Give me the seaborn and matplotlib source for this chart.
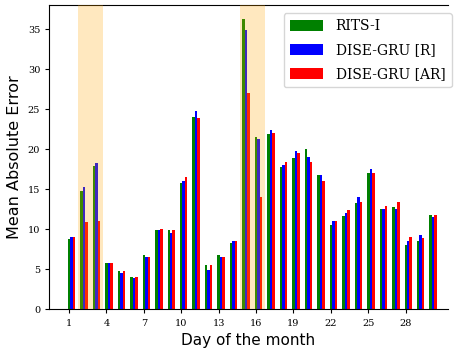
import numpy as np
import pandas as pd
import seaborn as sns
import matplotlib.pyplot as plt

days = list(range(1, 31))

rits_i = [8.75, 14.75, 17.9, 5.75, 4.75, 4.1, 6.75, 9.9, 9.9, 15.75,
          24.1, 5.6, 6.75, 8.25, 36.25, 21.6, 21.9, 17.75, 18.9, 20.1,
          16.75, 10.5, 11.7, 13.25, 17.0, 12.5, 12.75, 8.1, 8.6, 11.75]
dise_r = [9.1, 15.25, 18.25, 5.75, 4.6, 3.9, 6.5, 9.9, 9.6, 16.1,
          24.75, 4.9, 6.5, 8.5, 34.9, 21.25, 22.4, 18.1, 19.75, 19.0,
          16.75, 11.0, 12.1, 14.0, 17.6, 12.5, 12.6, 8.5, 9.25, 11.6]
dise_ar = [9.0, 10.9, 11.1, 5.75, 4.75, 4.0, 6.5, 10.1, 9.9, 16.6,
           23.9, 5.5, 6.6, 8.6, 27.1, 14.1, 22.0, 18.4, 19.6, 18.4,
           16.0, 11.1, 12.4, 13.4, 17.0, 12.9, 13.4, 9.0, 8.9, 11.75]

series_names = ["RITS-I", "DISE-GRU [R]", "DISE-GRU [AR]"]
series_colors = ["green", "blue", "red"]
highlight_days = [(2, 3), (15, 16)]
tick_days = list(range(1, 31, 3))

df = pd.DataFrame({
    "day": days * 3,
    "mae": rits_i + dise_r + dise_ar,
    "model": [series_names[0]] * 30 + [series_names[1]] * 30 + [series_names[2]] * 30,
})

fig = plt.figure(figsize=(4.56, 3.49), dpi=100)
ax = fig.add_axes([0.108, 0.1132, 0.874, 0.8725])

sns.barplot(data=df, x="day", y="mae", hue="model", hue_order=series_names,
            palette=series_colors, native_scale=True, width=0.6, gap=0,
            saturation=1, linewidth=0, ax=ax)

# shaded days, drawn over the bars
for a, b in highlight_days:
    ax.axvspan(a - 0.5, b + 0.5, color="orange", alpha=0.25, lw=0, zorder=3)

ax.set_xlim(-0.78, 31.17)
ax.set_ylim(0, 38.06)
ax.set_xticks([d - 0.2 for d in tick_days])
ax.set_xticklabels([str(d) for d in tick_days], family="DejaVu Serif", fontsize=7)
ax.set_yticks(range(0, 36, 5))
ax.set_yticklabels([str(v) for v in range(0, 36, 5)], family="DejaVu Serif", fontsize=7)
ax.spines["right"].set_visible(False)
ax.tick_params(length=3, width=0.8)

ax.set_xlabel("Day of the month", fontsize=11)
ax.set_ylabel("Mean Absolute Error", fontsize=11.5)

ax.legend(loc="upper right", prop={"family": "DejaVu Serif", "size": 10},
          handlelength=2.4, handleheight=0.85, borderpad=0.45, labelspacing=0.72,
          handletextpad=0.9, borderaxespad=0, bbox_to_anchor=(1.01, 0.974))

fig.savefig("out.png", dpi=100)
